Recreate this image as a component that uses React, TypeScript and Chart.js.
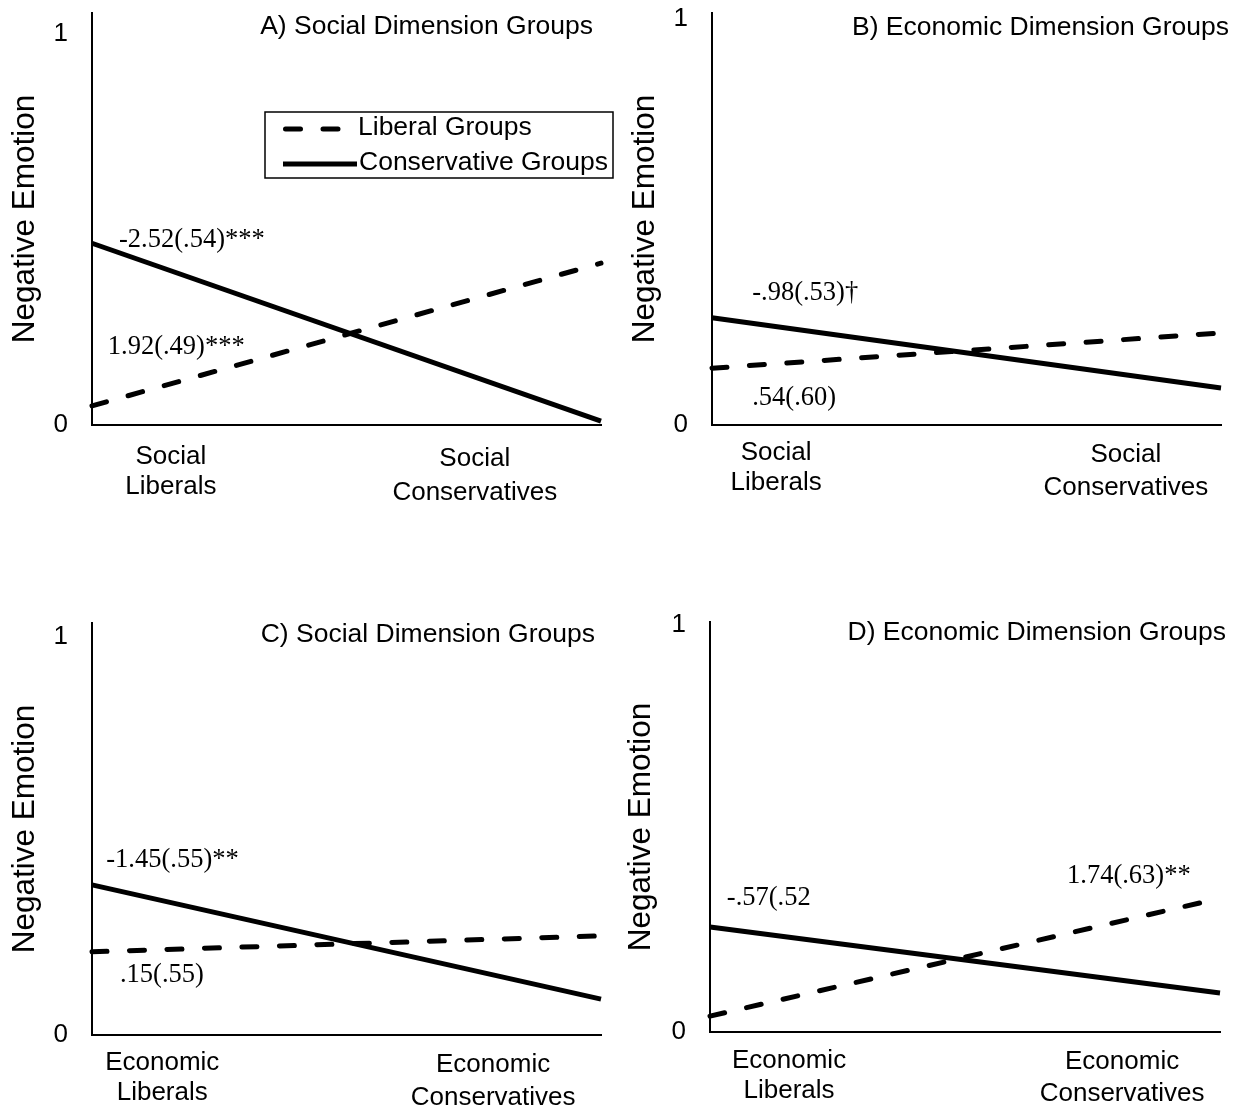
import React, { useEffect, useRef } from 'react';
import { Chart, registerables } from 'chart.js';

Chart.register(...registerables);

// ---------- data ----------
const seriesNames = ['Liberal Groups', 'Conservative Groups'];
const xEnds = [0, 1];
const xEndsPanelDLiberal = [0, 0.967];

const panelALiberal = [0.049, 0.414];
const panelAConservative = [0.465, 0.01];
const panelBLiberal = [0.14, 0.227];
const panelBConservative = [0.264, 0.091];
const panelCLiberal = [0.209, 0.249];
const panelCConservative = [0.377, 0.09];
const panelDLiberal = [0.039, 0.319];
const panelDConservative = [0.258, 0.096];

const yTickValues = [0, 1];
const socialTickLabels = [['Social', 'Liberals'], ['Social', 'Conservatives']];
const economicTickLabels = [['Economic', 'Liberals'], ['Economic', 'Conservatives']];

const panelTitles = [
  'A) Social Dimension Groups',
  'B) Economic Dimension Groups',
  'C) Social Dimension Groups',
  'D) Economic Dimension Groups',
];
const panelANotes = ['-2.52(.54)***', '1.92(.49)***'];
const panelBNotes = ['-.98(.53)\u2020', '.54(.60)'];
const panelCNotes = ['-1.45(.55)**', '.15(.55)'];
const panelDNotes = ['-.57(.52', '1.74(.63)**'];

const yTitle = 'Negative Emotion';

// ---------- styling / layout ----------
const SANS = '"Liberation Sans", Arial, Helvetica, sans-serif';
const SERIF = '"Liberation Serif", "Times New Roman", Times, serif';

type PanelCfg = {
  left: number; top: number; w: number; h: number;
  yWidth: number; padRight: number; xHeight: number; yMax: number;
  yTitlePad: number; xPad: number; lh0: number; lh1: number;
  xTickPos: number[]; xLabels: string[][];
  title: string; titleDx: number; titleDy: number;
  notes: { text: string; x: number; y: number }[];
  legend: boolean;
  lib: { xs: number[]; ys: number[] };
  con: { xs: number[]; ys: number[] };
};

const panels: PanelCfg[] = [
  {
    left: 0, top: -30, w: 620, h: 600,
    yWidth: 92, padRight: 19, xHeight: 145, yMax: 1.054,
    yTitlePad: 6.4, xPad: 17, lh0: 30, lh1: 34,
    xTickPos: [0.155, 0.752], xLabels: socialTickLabels,
    title: panelTitles[0], titleDx: -8, titleDy: 14,
    notes: [
      { text: panelANotes[0], x: 0.053, y: 0.473 },
      { text: panelANotes[1], x: 0.031, y: 0.2 },
    ],
    legend: true,
    lib: { xs: xEnds, ys: panelALiberal },
    con: { xs: xEnds, ys: panelAConservative },
  },
  {
    left: 620, top: -30, w: 621, h: 600,
    yWidth: 92, padRight: 20, xHeight: 145, yMax: 1.015,
    yTitlePad: 6.4, xPad: 13, lh0: 30, lh1: 33,
    xTickPos: [0.126, 0.813], xLabels: socialTickLabels,
    title: panelTitles[1], titleDx: 8, titleDy: 15,
    notes: [
      { text: panelBNotes[0], x: 0.079, y: 0.325 },
      { text: panelBNotes[1], x: 0.079, y: 0.066 },
    ],
    legend: false,
    lib: { xs: xEnds, ys: panelBLiberal },
    con: { xs: xEnds, ys: panelBConservative },
  },
  {
    left: 0, top: 580, w: 620, h: 532,
    yWidth: 92, padRight: 19, xHeight: 77, yMax: 1.035,
    yTitlePad: 6.4, xPad: 13, lh0: 30, lh1: 33,
    xTickPos: [0.138, 0.788], xLabels: economicTickLabels,
    title: panelTitles[2], titleDx: -6, titleDy: 12,
    notes: [
      { text: panelCNotes[0], x: 0.028, y: 0.44 },
      { text: panelCNotes[1], x: 0.055, y: 0.151 },
    ],
    legend: false,
    lib: { xs: xEnds, ys: panelCLiberal },
    con: { xs: xEnds, ys: panelCConservative },
  },
  {
    left: 620, top: 579, w: 621, h: 533,
    yWidth: 90, padRight: 21, xHeight: 80, yMax: 1.007,
    yTitlePad: 2.4, xPad: 14, lh0: 30, lh1: 32,
    xTickPos: [0.155, 0.808], xLabels: economicTickLabels,
    title: panelTitles[3], titleDx: 6, titleDy: 11,
    notes: [
      { text: panelDNotes[0], x: 0.033, y: 0.329 },
      { text: panelDNotes[1], x: 0.7, y: 0.383 },
    ],
    legend: false,
    lib: { xs: xEndsPanelDLiberal, ys: panelDLiberal },
    con: { xs: xEnds, ys: panelDConservative },
  },
];

const LINE_W = 5;
const DASH = [15, 22.5];

const decorPlugin = {
  id: 'panelDecor',
  afterDatasetsDraw(chart: any, _args: any, opts: any) {
    const { ctx, chartArea, scales } = chart;
    ctx.save();
    ctx.fillStyle = '#000';
    ctx.textBaseline = 'middle';
    // panel title
    ctx.font = `26.5px ${SANS}`;
    ctx.textAlign = 'right';
    ctx.fillText(opts.title, chartArea.right + opts.titleDx, chartArea.top + opts.titleDy);
    // coefficient notes
    ctx.font = `26.5px ${SERIF}`;
    ctx.textAlign = 'left';
    (opts.notes || []).forEach((n: any) => {
      ctx.fillText(n.text, scales.x.getPixelForValue(n.x), scales.y.getPixelForValue(n.y));
    });
    // legend
    if (opts.legend) {
      const bx = chartArea.left + 173;
      const by = chartArea.top + 99;
      const bw = 348;
      const bh = 66;
      ctx.lineWidth = 1.5;
      ctx.strokeStyle = '#000';
      ctx.setLineDash([]);
      ctx.strokeRect(bx, by, bw, bh);
      const rows = [by + 17, by + 52];
      chart.data.datasets.forEach((ds: any, i: number) => {
        const y = rows[i];
        ctx.save();
        ctx.lineWidth = ds.borderWidth;
        ctx.strokeStyle = ds.borderColor;
        ctx.setLineDash(ds.borderDash || []);
        ctx.lineCap = ds.borderCapStyle || 'butt';
        ctx.beginPath();
        if (ds.borderDash && ds.borderDash.length) {
          ctx.moveTo(bx + 20.5, y);
          ctx.lineTo(bx + 73, y);
        } else {
          ctx.moveTo(bx + 18, y);
          ctx.lineTo(bx + 92, y);
        }
        ctx.stroke();
        ctx.restore();
        ctx.font = `26.5px ${SANS}`;
        ctx.fillStyle = '#000';
        ctx.textAlign = 'left';
        ctx.textBaseline = 'middle';
        ctx.fillText(ds.label, bx + 93 + (i === 1 ? 1 : 0), y - 1);
      });
    }
    ctx.restore();
  },
};

function Panel({ cfg }: { cfg: PanelCfg }) {
  const ref = useRef<HTMLCanvasElement>(null);
  useEffect(() => {
    const canvas = ref.current;
    if (!canvas) return;
    const toPts = (s: { xs: number[]; ys: number[] }) => s.xs.map((x, i) => ({ x, y: s.ys[i] }));
    const chart = new Chart(canvas, {
      type: 'line',
      data: {
        datasets: [
          {
            label: seriesNames[0],
            data: toPts(cfg.lib),
            borderColor: '#000',
            borderWidth: LINE_W,
            borderDash: DASH,
            borderCapStyle: 'round',
            pointRadius: 0,
            fill: false,
            tension: 0,
            clip: false,
          } as any,
          {
            label: seriesNames[1],
            data: toPts(cfg.con),
            borderColor: '#000',
            borderWidth: LINE_W,
            borderCapStyle: 'butt',
            pointRadius: 0,
            fill: false,
            tension: 0,
            clip: false,
          } as any,
        ],
      },
      options: {
        responsive: false,
        animation: false,
        devicePixelRatio: 1,
        layout: { padding: { top: 43, left: 0, right: cfg.padRight, bottom: 0 } },
        plugins: {
          legend: { display: false },
          tooltip: { enabled: false },
          title: { display: false },
          panelDecor: {
            title: cfg.title,
            titleDx: cfg.titleDx,
            titleDy: cfg.titleDy,
            notes: cfg.notes,
            legend: cfg.legend,
          },
        } as any,
        scales: {
          x: {
            type: 'linear',
            min: 0,
            max: 1,
            afterBuildTicks: (s: any) => {
              s.ticks = cfg.xTickPos.map((v) => ({ value: v }));
            },
            afterFit: (s: any) => {
              s.height = cfg.xHeight;
            },
            ticks: {
              padding: cfg.xPad,
              color: '#000',
              autoSkip: false,
              maxRotation: 0,
              minRotation: 0,
              font: (c: any) => ({
                family: SANS,
                size: 26,
                lineHeight: (c.index === 0 ? cfg.lh0 : cfg.lh1) + 'px',
              }),
              callback: (_v: any, i: number) => cfg.xLabels[i],
            },
            grid: { display: false, drawTicks: false },
            border: { display: true, color: '#000', width: 2 },
          },
          y: {
            type: 'linear',
            min: 0,
            max: cfg.yMax,
            afterBuildTicks: (s: any) => {
              s.ticks = yTickValues.map((v) => ({ value: v }));
            },
            afterFit: (s: any) => {
              s.width = cfg.yWidth;
            },
            ticks: {
              padding: 24,
              color: '#000',
              font: { family: SANS, size: 26, lineHeight: 1.2 },
              callback: (v: any) => String(v),
            },
            grid: { display: false, drawTicks: false },
            border: { display: true, color: '#000', width: 2 },
            title: {
              display: true,
              text: yTitle,
              color: '#000',
              font: { family: SANS, size: 31.5, lineHeight: 1.2 },
              padding: { top: cfg.yTitlePad, bottom: 0 },
            },
          },
        } as any,
      },
      plugins: [decorPlugin as any],
    });
    return () => chart.destroy();
  }, [cfg]);
  return (
    <canvas
      ref={ref}
      width={cfg.w}
      height={cfg.h}
      style={{ position: 'absolute', left: cfg.left, top: cfg.top, width: cfg.w, height: cfg.h }}
    />
  );
}

export default function App() {
  return (
    <div
      style={{
        position: 'absolute',
        left: 0,
        top: 0,
        width: 1241,
        height: 1112,
        background: '#fff',
        overflow: 'hidden',
      }}
    >
      {panels.map((p, i) => (
        <Panel key={i} cfg={p} />
      ))}
    </div>
  );
}
